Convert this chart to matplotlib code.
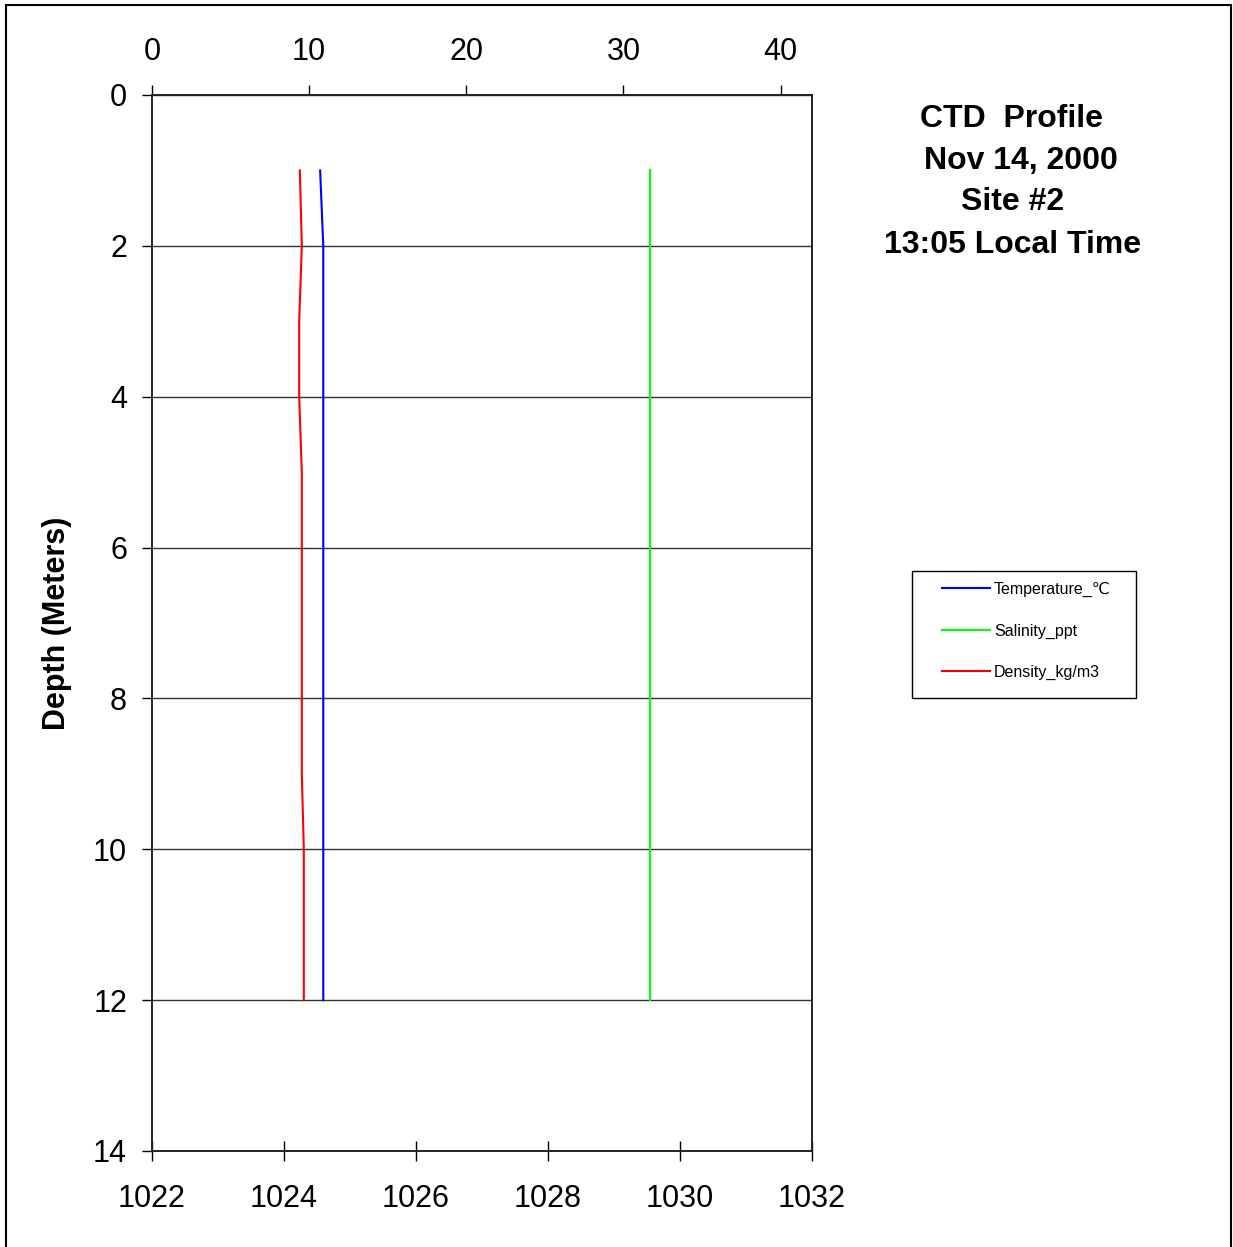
import matplotlib
matplotlib.use("Agg")
import matplotlib.pyplot as plt
from matplotlib.patches import Rectangle

plt.rcParams['font.family'] = ['Liberation Sans', 'DejaVu Sans']

# CTD cast, Nov 14 2000, site 2
depth = [1, 2, 3, 4, 5, 6, 7, 8, 9, 10, 11, 12]
temperature = [10.7, 10.9, 10.9, 10.9, 10.9, 10.9, 10.9, 10.9, 10.9, 10.9, 10.9, 10.9]
salinity = [31.7, 31.7, 31.7, 31.7, 31.7, 31.7, 31.7, 31.7, 31.7, 31.7, 31.7, 31.7]
density = [1024.24, 1024.27, 1024.23, 1024.23, 1024.27, 1024.27, 1024.27, 1024.27,
           1024.27, 1024.30, 1024.30, 1024.30]

title_lines = ["CTD  Profile", "Nov 14, 2000", "Site #2", "13:05 Local Time"]
title_x = [1012, 1021, 1013, 1013]
title_y = [119, 161, 202, 245]

W, H = 1233, 1247
fig = plt.figure(figsize=(W / 100, H / 100), dpi=100)
ax = fig.add_axes([152 / W, 96 / H, 660 / W, 1056 / H])
ax2 = ax.twiny()

l3, = ax.plot(density, depth, color='#ff0000', lw=1.5, label='Density_kg/m3')
l1, = ax2.plot(temperature, depth, color='#0000ff', lw=1.5, label='Temperature_\u2103')
l2, = ax2.plot(salinity, depth, color='#00ff00', lw=1.5, label='Salinity_ppt')

ax.set_xlim(1022, 1032)
ax.set_xticks(range(1022, 1033, 2))
ax2.set_xlim(0, 42)
ax2.set_xticks(range(0, 41, 10))
ax.set_ylim(14, 0)
ax.set_yticks(range(0, 15, 2))

ax.yaxis.grid(True, color='#333333', lw=1)
ax.set_axisbelow(True)

ax.tick_params(axis='x', direction='inout', length=14, width=1, labelsize=22, pad=17)
ax.tick_params(axis='y', direction='out', length=7, width=1, labelsize=22, pad=11)
ax2.tick_params(axis='x', direction='out', length=7, width=1, labelsize=22, pad=13.5)

for a in (ax, ax2):
    for s in a.spines.values():
        s.set_linewidth(1.2)
        s.set_color('#222222')

ax.set_ylabel('Depth (Meters)', fontsize=22, fontweight='bold')
ax.yaxis.set_label_coords(-0.121, 0.5)

for txt, x, y in zip(title_lines, title_x, title_y):
    fig.text(x / W, 1 - y / H, txt, ha='center', va='center', fontsize=23, fontweight='bold')

# legend entries without frame, then a plain box drawn around them
leg = fig.legend([l1, l2, l3], [l1.get_label(), l2.get_label(), l3.get_label()],
                 loc='upper left', bbox_to_anchor=(942 / W, 1 - 582 / H),
                 fontsize=11.5, handlelength=3.0, labelspacing=1.65, borderpad=0,
                 handletextpad=0.25, frameon=False, borderaxespad=0)
fig.patches.append(Rectangle((912 / W, 1 - 698 / H), 224 / W, 127 / H, transform=fig.transFigure,
                             fill=False, edgecolor='black', lw=1))

fig.patches.append(Rectangle((6 / W, -0.01), 1225 / W, 1 - 5 / H + 0.01, transform=fig.transFigure,
                             fill=False, edgecolor='black', lw=1.5, clip_on=False))

fig.savefig('out.png', dpi=100)
